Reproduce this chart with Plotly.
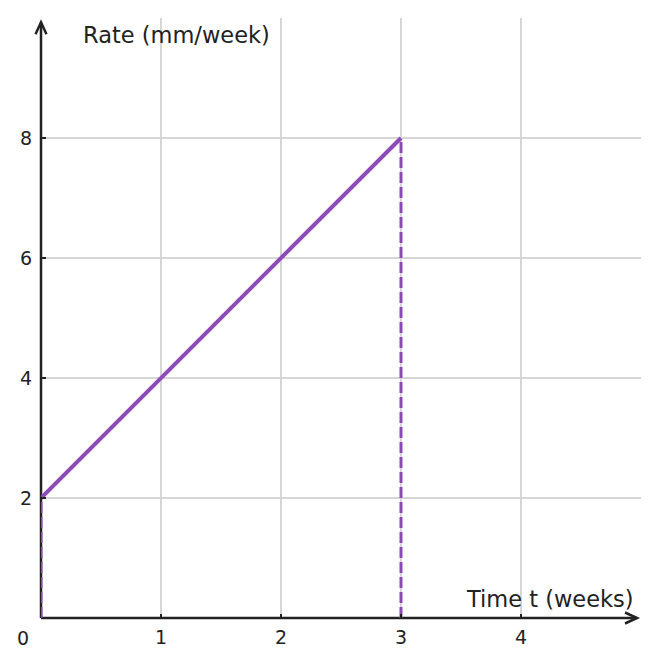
import plotly.graph_objects as go

# Data
t_line = [0, 3]
rate_line = [2, 8]
x_ticks = [1, 2, 3, 4]
y_ticks = [2, 4, 6, 8]
x_max, y_max = 5, 10
purple = "#8e4ab8"
dash_purple = "#8a4ab4"
ink = "#222222"

fig = go.Figure()

# Dashed verticals at start and end
for tx, ry in zip(t_line, rate_line):
    fig.add_trace(go.Scatter(x=[tx, tx], y=[0, ry], mode="lines",
                             line=dict(color=dash_purple, width=3, dash="11px,4px"),
                             hoverinfo="skip", showlegend=False, cliponaxis=False))

fig.add_trace(go.Scatter(x=t_line, y=rate_line, mode="lines",
                         line=dict(color=purple, width=4),
                         showlegend=False, cliponaxis=False))

# Axes with arrows (paper coordinates so they are not clipped)
x_tip = 4.967 / x_max
y_tip = 9.93 / y_max
fig.add_shape(type="line", x0=0, y0=0, x1=x_tip, y1=0, xref="paper", yref="paper",
              line=dict(color=ink, width=2.5), layer="between")
fig.add_shape(type="line", x0=0, y0=0, x1=0, y1=y_tip, xref="paper", yref="paper",
              line=dict(color=ink, width=2.5), layer="between")
fig.add_shape(type="path", xsizemode="pixel", ysizemode="pixel",
              xanchor=x_tip, yanchor=0, xref="paper", yref="paper",
              path="M -12,-5.5 L 0,0 L -12,5.5",
              line=dict(color=ink, width=2.5), layer="above")
fig.add_shape(type="path", xsizemode="pixel", ysizemode="pixel",
              xanchor=0, yanchor=y_tip, xref="paper", yref="paper",
              path="M -5.5,-12 L 0,0 L 5.5,-12",
              line=dict(color=ink, width=2.5), layer="above")

# Axis titles
fig.add_annotation(x=0.333, y=9.72, xref="x", yref="y", text="Rate (mm/week)",
                   showarrow=False, xanchor="left", yanchor="middle",
                   font=dict(size=22.5, color=ink))
fig.add_annotation(x=4.96, y=0.32, xref="x", yref="y", text="Time t (weeks)",
                   showarrow=False, xanchor="right", yanchor="middle",
                   font=dict(size=22.5, color=ink))
fig.add_annotation(x=0, y=0, xref="x", yref="y", text="0", showarrow=False,
                   xanchor="center", yanchor="middle", xshift=-18, yshift=-20,
                   font=dict(size=19, color=ink))

fig.update_xaxes(range=[0, x_max], tickvals=x_ticks, showgrid=True,
                 gridcolor="#d6d6d6", gridwidth=1.5, zeroline=False,
                 ticks="inside", ticklen=4, tickwidth=2, tickcolor=ink,
                 ticklabelstandoff=6,
                 tickfont=dict(size=19, color=ink, family="DejaVu Sans"),
                 showline=False)
fig.update_yaxes(range=[0, y_max], tickvals=y_ticks, showgrid=True,
                 gridcolor="#d6d6d6", gridwidth=1.5, zeroline=False,
                 ticks="inside", ticklen=5, tickwidth=2, tickcolor=ink,
                 ticklabelstandoff=8,
                 tickfont=dict(size=19, color=ink, family="DejaVu Sans"),
                 showline=False)

fig.update_layout(width=661, height=668,
                  margin=dict(l=41, r=20, t=18, b=50),
                  plot_bgcolor="white", paper_bgcolor="white",
                  font=dict(family="DejaVu Sans", color=ink))

fig.write_html("out.html")
